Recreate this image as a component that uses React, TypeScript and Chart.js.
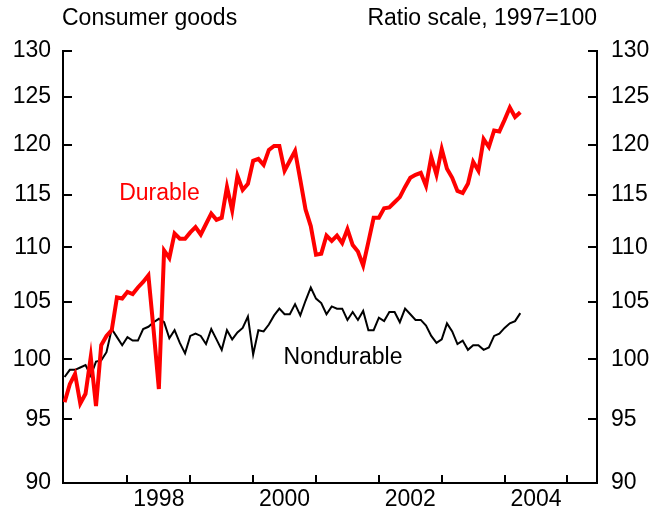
import React, { useEffect, useRef } from "react";
import { Chart, registerables } from "chart.js";

Chart.register(...registerables);

// Monthly data, January 1997 onward (index = months since Jan 1997)
const START_YEAR = 1997;

const durable: number[] = [
  96.4, 97.9, 98.75, 96.3, 97.1, 100.2, 96.1, 101.2, 102.0, 102.5, 105.4, 105.3,
  105.9, 105.7, 106.3, 106.8, 107.4, 102.5, 97.5, 109.7, 109.0, 111.3, 110.8, 110.8,
  111.4, 111.9, 111.2, 112.2, 113.2, 112.6, 112.8, 115.8, 113.5, 116.9, 115.5, 116.1,
  118.4, 118.6, 118.0, 119.5, 119.9, 119.9, 117.4, 118.4, 119.4, 116.5, 113.6, 112.0,
  109.3, 109.4, 111.1, 110.6, 111.1, 110.4, 111.7, 110.2, 109.6, 108.3, 110.5, 112.8,
  112.8, 113.7, 113.8, 114.3, 114.8, 115.8, 116.7, 117.0, 117.2, 115.9, 118.8, 117.0,
  119.6, 117.6, 116.7, 115.4, 115.2, 116.1, 118.3, 117.4, 120.6, 119.8, 121.5, 121.4,
  122.6, 123.9, 122.9, 123.4,
];

const nondurable: number[] = [
  98.5, 99.1, 99.1, 99.3, 99.5, 98.6, 99.8, 99.9, 100.6, 102.6, 101.9, 101.2,
  101.9, 101.6, 101.6, 102.6, 102.8, 103.2, 103.5, 103.2, 101.8, 102.5, 101.4, 100.5,
  102.0, 102.2, 102.0, 101.3, 102.6, 101.7, 100.8, 102.5, 101.7, 102.3, 102.7, 103.7,
  100.4, 102.5, 102.4, 103.0, 103.8, 104.4, 103.9, 103.9, 104.8, 103.8, 105.1, 106.3,
  105.3, 104.9, 103.9, 104.6, 104.4, 104.4, 103.4, 104.1, 103.4, 104.2, 102.5, 102.5,
  103.6, 103.3, 104.1, 104.1, 103.2, 104.4, 103.9, 103.4, 103.4, 102.9, 102.0, 101.4,
  101.7, 103.1, 102.4, 101.3, 101.6, 100.8, 101.2, 101.2, 100.8, 101.0, 102.0, 102.2,
  102.7, 103.1, 103.3, 104.0,
];

const yTicks: number[] = [90, 95, 100, 105, 110, 115, 120, 125, 130];
const xTickYears: number[] = [1998, 1999, 2000, 2001, 2002, 2003, 2004, 2005];
const xLabelYears: number[] = [1998, 2000, 2002, 2004];

const titleLeft = "Consumer goods";
const titleRight = "Ratio scale, 1997=100";
const durableLabel = { text: "Durable", x: 1998.51, y: 115.15 };
const nondurableLabel = { text: "Nondurable", x: 2001.43, y: 100.13 };

const FONT = '"Liberation Sans", Arial, Helvetica, sans-serif';
const FS = 23;

const toPoints = (arr: number[]) =>
  arr.map((v, i) => ({ x: START_YEAR + i / 12, y: v }));

const decorPlugin = {
  id: "decor",
  afterDraw(chart: any) {
    const ctx = chart.ctx;
    const area = chart.chartArea;
    const xs = chart.scales.x;
    const yl = chart.scales.y;
    ctx.save();
    ctx.strokeStyle = "#000";
    ctx.lineWidth = 2;
    ctx.lineCap = "butt";
    // y ticks (inward)
    yTicks.forEach((v) => {
      const py = Math.round(yl.getPixelForValue(v));
      ctx.beginPath();
      ctx.moveTo(area.left, py);
      ctx.lineTo(area.left + 9, py);
      ctx.stroke();
      ctx.beginPath();
      ctx.moveTo(area.right, py);
      ctx.lineTo(area.right - 9, py);
      ctx.stroke();
    });
    // x ticks (inward)
    xTickYears.forEach((yr) => {
      const px = Math.round(xs.getPixelForValue(yr));
      ctx.beginPath();
      ctx.moveTo(px, area.bottom);
      ctx.lineTo(px, area.bottom - 8);
      ctx.stroke();
    });
    // titles
    ctx.font = `${FS}px ${FONT}`;
    ctx.fillStyle = "#000";
    ctx.textBaseline = "middle";
    ctx.textAlign = "left";
    ctx.fillText(titleLeft, 62, 19);
    ctx.textAlign = "right";
    ctx.fillText(titleRight, 597, 19);
    // series labels
    ctx.textAlign = "center";
    ctx.fillStyle = "#ff0000";
    ctx.fillText(durableLabel.text, xs.getPixelForValue(durableLabel.x), yl.getPixelForValue(durableLabel.y));
    ctx.fillStyle = "#000";
    ctx.fillText(nondurableLabel.text, xs.getPixelForValue(nondurableLabel.x), yl.getPixelForValue(nondurableLabel.y));
    ctx.restore();
  },
};

export default function App() {
  const ref = useRef<HTMLCanvasElement>(null);
  useEffect(() => {
    if (!ref.current) return;
    const yScaleBase = (position: string, width: number, padding: number) => ({
      type: "logarithmic",
      position,
      min: 90,
      max: 130,
      grid: { display: false, drawTicks: false },
      border: { display: true, color: "#000", width: 2 },
      ticks: {
        color: "#000",
        font: { family: FONT, size: FS },
        padding,
        callback: (v: any) => String(v),
      },
      afterBuildTicks: (scale: any) => {
        scale.ticks = yTicks.map((v) => ({ value: v }));
      },
      afterFit: (scale: any) => {
        scale.width = width;
      },
    });
    const chart = new Chart(ref.current, {
      type: "line",
      data: {
        datasets: [
          {
            label: "Durable",
            data: toPoints(durable),
            borderColor: "#ff0000",
            borderWidth: 4,
            pointRadius: 0,
            tension: 0,
            yAxisID: "y",
          },
          {
            label: "Nondurable",
            data: toPoints(nondurable),
            borderColor: "#000000",
            borderWidth: 2,
            pointRadius: 0,
            tension: 0,
            yAxisID: "y",
          },
        ],
      },
      options: {
        animation: false,
        responsive: false,
        devicePixelRatio: 1,
        layout: { padding: { top: 51, left: 0, right: 0, bottom: 0 } },
        plugins: {
          legend: { display: false },
          tooltip: { enabled: false },
          title: { display: false },
        },
        scales: {
          x: {
            type: "linear",
            position: "bottom",
            min: 1996.975,
            max: 2005.47,
            grid: { display: false, drawTicks: false },
            border: { display: true, color: "#000", width: 2 },
            ticks: {
              color: "#000",
              font: { family: FONT, size: FS },
              padding: 3,
              maxRotation: 0,
              autoSkip: false,
              callback: (v: any) => String(Math.floor(v)),
            },
            afterBuildTicks: (scale: any) => {
              scale.ticks = xLabelYears.map((y) => ({ value: y + 0.5 }));
            },
            afterFit: (scale: any) => {
              scale.height = 30;
            },
          },
          y: yScaleBase("left", 63, 12) as any,
          y2: yScaleBase("right", 60, 14) as any,
        },
      } as any,
      plugins: [decorPlugin],
    });
    return () => chart.destroy();
  }, []);
  return (
    <div style={{ position: "absolute", left: 0, top: 0, width: 657, height: 513 }}>
      <canvas ref={ref} width={657} height={513} />
    </div>
  );
}
